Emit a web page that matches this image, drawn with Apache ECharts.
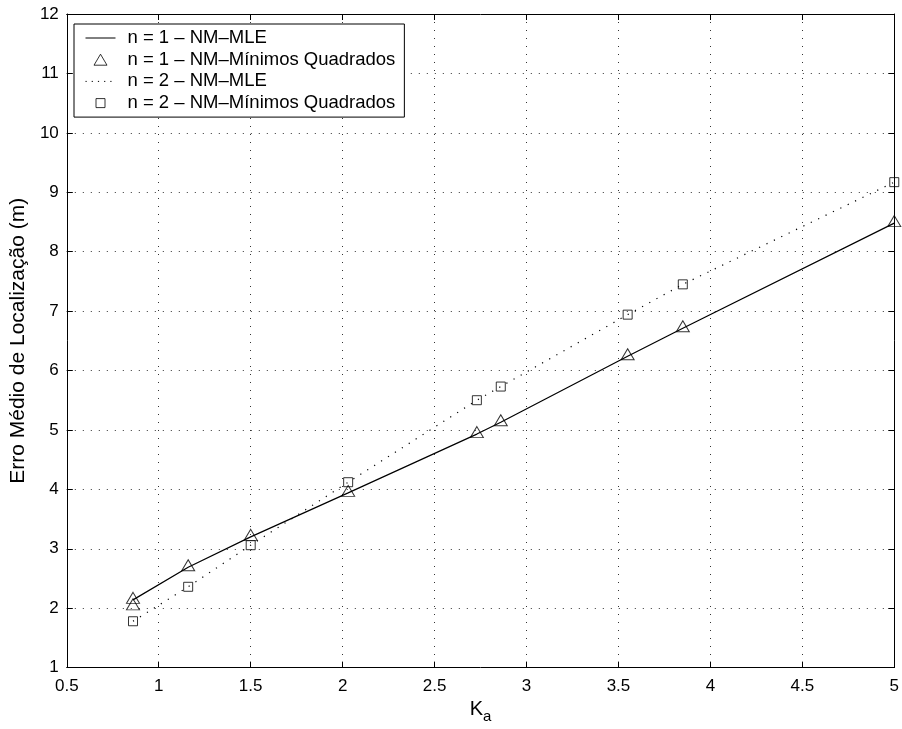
<!DOCTYPE html>
<html>
<head>
<meta charset="utf-8">
<script src="https://cdn.jsdelivr.net/npm/echarts@6/dist/echarts.min.js"></script>
<style>html,body{margin:0;padding:0;background:#fff;}#c{width:902px;height:729px;}</style>
</head>
<body>
<div id="c"></div>
<script>
// Data
var ka = [0.86, 1.16, 1.5, 2.03, 2.73, 2.86, 3.55, 3.85, 5.0];
var mle1 = [2.14, 2.69, 3.2, 3.94, 4.93, 5.13, 6.24, 6.71, 8.48];
var lsKa1 = [0.86, 0.86, 1.16, 1.5, 2.03, 2.73, 2.86, 3.55, 3.85, 5.0];
var ls1 = [2.14, 2.03, 2.69, 3.2, 3.94, 4.93, 5.13, 6.24, 6.71, 8.48];
var mle2 = [1.78, 2.36, 3.06, 4.12, 5.5, 5.73, 6.94, 7.45, 9.17];
var ls2 = [1.78, 2.36, 3.06, 4.12, 5.5, 5.73, 6.94, 7.45, 9.17];
var seriesNames = ['n = 1 \u2013 NM\u2013MLE', 'n = 1 \u2013 NM\u2013M\u00ednimos Quadrados', 'n = 2 \u2013 NM\u2013MLE', 'n = 2 \u2013 NM\u2013M\u00ednimos Quadrados'];
var yName = 'Erro M\u00e9dio de Localiza\u00e7\u00e3o (m)';

function pairs(xs, ys) { return xs.map(function (x, i) { return [x, ys[i]]; }); }

var FONT = 'Liberation Sans, Arial, Helvetica, sans-serif';
var chart = echarts.init(document.getElementById('c'), null, {renderer: 'canvas'});
var gridLine = {show: true, lineStyle: {color: '#333', width: 1, type: [1, 7]}};
var tick = {show: true, inside: true, length: 6, lineStyle: {color: '#000'}};
var triIcon = 'path://M0,0M30,14M8.5,12.5L15,1.5L21.5,12.5Z';
var sqIcon = 'path://M0,0M30,14M10.5,2.5L19.5,2.5L19.5,11.5L10.5,11.5Z';
var hiddenSym = {color: 'rgba(0,0,0,0)', borderWidth: 0, opacity: 0};
var openSym = {color: 'rgba(0,0,0,0)', borderColor: '#000', borderWidth: 1};
chart.setOption({
  animation: false,
  backgroundColor: '#fff',
  textStyle: {fontFamily: FONT, color: '#000'},
  grid: {left: 65.5, right: 5, top: 14, bottom: 58},
  legend: {
    orient: 'vertical', left: 74, top: 24,
    backgroundColor: '#fff', borderColor: '#000', borderWidth: 1,
    padding: [4.5, 9, 4.5, 11],
    itemWidth: 30, itemHeight: 14, itemGap: 2.7,
    textStyle: {fontFamily: FONT, fontSize: 18.5, color: '#000', lineHeight: 18, padding: [0, 0, 0, 7]},
    data: [
      {name: seriesNames[0], itemStyle: hiddenSym, lineStyle: {width: 1, color: '#000'}},
      {name: seriesNames[1], icon: triIcon, itemStyle: openSym},
      {name: seriesNames[2], itemStyle: hiddenSym, lineStyle: {width: 1, color: '#000', type: [1.2, 5]}},
      {name: seriesNames[3], icon: sqIcon, itemStyle: openSym}
    ]
  },
  xAxis: [{
    type: 'value', min: 0.5, max: 5, interval: 0.5,
    name: '{k|K}{s|a}', nameLocation: 'middle', nameGap: 22,
    nameTextStyle: {rich: {k: {fontSize: 20, fontFamily: FONT, color: '#000'}, s: {fontSize: 15, fontFamily: FONT, color: '#000', padding: [14, 0, 0, 0]}}},
    axisLine: {show: true, onZero: false, lineStyle: {color: '#000', width: 1}},
    axisTick: tick,
    axisLabel: {fontSize: 17, color: '#000', fontFamily: FONT, margin: 10},
    splitLine: gridLine
  }, {
    type: 'value', min: 0.5, max: 5, interval: 0.5, position: 'top',
    axisLine: {show: true, onZero: false, lineStyle: {color: '#000', width: 1}},
    axisTick: tick, axisLabel: {show: false}, splitLine: {show: false}
  }],
  yAxis: [{
    type: 'value', min: 1, max: 12, interval: 1,
    name: yName, nameLocation: 'middle', nameGap: 33,
    nameTextStyle: {fontSize: 21, fontFamily: FONT, color: '#000'},
    axisLine: {show: true, onZero: false, lineStyle: {color: '#000', width: 1}},
    axisTick: tick,
    axisLabel: {fontSize: 17, color: '#000', fontFamily: FONT, margin: 8},
    splitLine: gridLine
  }, {
    type: 'value', min: 1, max: 12, interval: 1, position: 'right',
    axisLine: {show: true, onZero: false, lineStyle: {color: '#000', width: 1}},
    axisTick: tick, axisLabel: {show: false}, splitLine: {show: false}
  }],
  series: [{
    name: seriesNames[0], type: 'line', data: pairs(ka, mle1),
    showSymbol: false, symbol: 'none', lineStyle: {color: '#000', width: 1.2}, itemStyle: {color: '#000'}, z: 2
  }, {
    name: seriesNames[1], type: 'scatter', data: pairs(lsKa1, ls1),
    symbol: 'triangle', symbolSize: [13, 11], symbolOffset: [0, -2],
    itemStyle: openSym, z: 3
  }, {
    name: seriesNames[2], type: 'line', data: pairs(ka, mle2),
    showSymbol: false, symbol: 'none', lineStyle: {color: '#000', width: 1.2, type: [1.2, 7]}, itemStyle: {color: '#000'}, z: 2
  }, {
    name: seriesNames[3], type: 'scatter', data: pairs(ka, ls2),
    symbol: 'rect', symbolSize: 9,
    itemStyle: openSym, z: 3
  }]
});
</script>
</body>
</html>
